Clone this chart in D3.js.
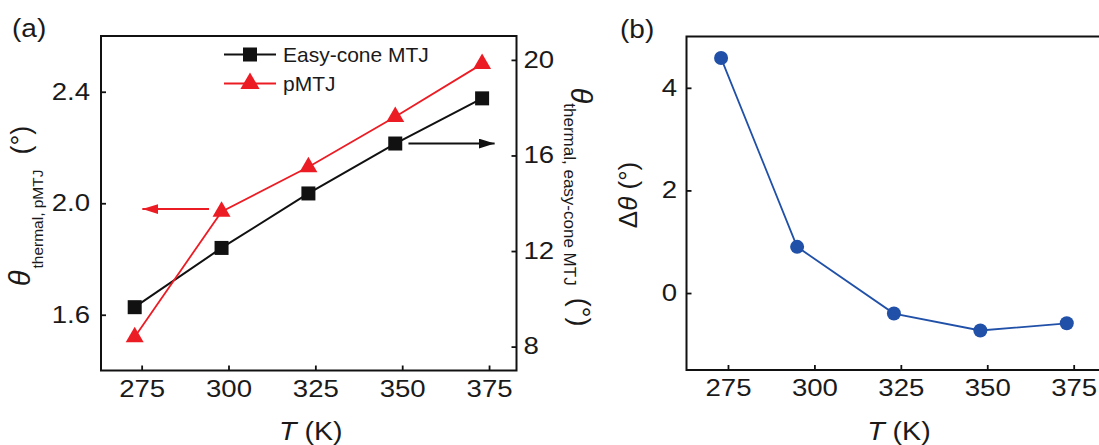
<!DOCTYPE html>
<html>
<head>
<meta charset="utf-8">
<script src="https://cdn.jsdelivr.net/npm/d3@7"></script>
<style>
  body { margin: 0; background: #fff; }
  svg { display: block; }
  text { font-family: "Liberation Sans", Arial, Helvetica, sans-serif; fill: #1a1a1a; }
</style>
</head>
<body>
<svg id="chart" width="1099" height="445"></svg>
<script>
// Temperatures (K) and thermal angles for panel (a)
const temperatures = [273, 298, 323, 348, 373];
const easyConeTheta = [9.65, 12.13, 14.41, 16.5, 18.39];   // right axis, degrees
const pmtjTheta = [1.52, 1.97, 2.13, 2.31, 2.50];          // left axis, degrees

// Panel (b): angle difference vs temperature
const deltaTemperatures = [273, 295, 323, 348, 373];
const deltaTheta = [4.58, 0.90, -0.40, -0.73, -0.59];

// Tick values
const tempTicks = [275, 300, 325, 350, 375];
const pmtjTicks = [1.6, 2.0, 2.4];
const easyConeTicks = [8, 12, 16, 20];
const deltaTicks = [0, 2, 4];

// Arrow annotations (data coordinates): which axis each curve belongs to
const pmtjArrow = { from: [294.4, 1.979], to: [275.2, 1.979] };
const easyConeArrow = { from: [351.8, 16.5], to: [376.6, 16.5] };

const RED = "#ec1c24";
const BLACK = "#111";
const BLUE = "#2150a8";

const TICK_FONT = 23;
const TICK_STRETCH = 1.2;   // tick numerals are set wide

const svg = d3.select("#chart");

const defs = svg.append("defs");
function arrowMarker(id, color) {
  defs.append("marker")
    .attr("id", id)
    .attr("viewBox", "0 0 16 10")
    .attr("refX", 16).attr("refY", 5)
    .attr("markerWidth", 16).attr("markerHeight", 10)
    .attr("markerUnits", "userSpaceOnUse")
    .attr("orient", "auto")
    .append("path")
    .attr("d", "M0,0 L16,5 L0,10 Z")
    .attr("fill", color);
}
arrowMarker("arrow-red", RED);
arrowMarker("arrow-black", BLACK);

// Remove the axis baseline (the frame draws it), thicken ticks, widen numerals
function styleAxis(g) {
  g.select(".domain").remove();
  g.selectAll(".tick line").attr("stroke", BLACK).attr("stroke-width", 1.8);
  g.selectAll(".tick text")
    .style("font-size", TICK_FONT + "px")
    .attr("fill", "#1a1a1a")
    .each(function () {
      const t = d3.select(this);
      const x = +t.attr("x") || 0;
      t.attr("x", x / TICK_STRETCH).attr("transform", `scale(${TICK_STRETCH},1)`);
    });
}

// Horizontal label with a slight horizontal stretch
function wideText(parent, x, y, size, stretch, anchor) {
  return parent.append("text")
    .attr("transform", `translate(${x},${y}) scale(${stretch},1)`)
    .attr("text-anchor", anchor || "start")
    .style("font-size", size + "px");
}

// ---------- Panel (a) ----------
const A = { left: 101, right: 516.5, top: 36, bottom: 370.5 };
const xA = d3.scaleLinear().domain([263.3, 382.9]).range([A.left, A.right]);
const yPmtj = d3.scaleLinear().domain([1.4, 2.6]).range([A.bottom, A.top]);
const yEasy = d3.scaleLinear().domain([7, 21]).range([A.bottom, A.top]);

const gA = svg.append("g");

gA.append("g")
  .attr("transform", `translate(0,${A.bottom})`)
  .call(d3.axisBottom(xA).tickValues(tempTicks).tickSize(-5).tickPadding(10).tickFormat(d3.format("d")))
  .call(styleAxis);

gA.append("g")
  .attr("transform", `translate(${A.left},0)`)
  .call(d3.axisLeft(yPmtj).tickValues(pmtjTicks).tickSize(-5).tickPadding(11).tickFormat(d3.format(".1f")))
  .call(styleAxis);

gA.append("g")
  .attr("transform", `translate(${A.right},0)`)
  .call(d3.axisRight(yEasy).tickValues(easyConeTicks).tickSize(-5).tickPadding(7).tickFormat(d3.format("d")))
  .call(styleAxis);

gA.append("rect")
  .attr("x", A.left).attr("y", A.top)
  .attr("width", A.right - A.left).attr("height", A.bottom - A.top)
  .attr("fill", "none").attr("stroke", BLACK).attr("stroke-width", 2);

// Easy-cone MTJ series (right axis)
const easyPts = temperatures.map((t, i) => [xA(t), yEasy(easyConeTheta[i])]);
gA.append("path")
  .attr("d", d3.line()(easyPts))
  .attr("fill", "none").attr("stroke", BLACK).attr("stroke-width", 2);

// pMTJ series (left axis)
const pmtjPts = temperatures.map((t, i) => [xA(t), yPmtj(pmtjTheta[i])]);
gA.append("path")
  .attr("d", d3.line()(pmtjPts))
  .attr("fill", "none").attr("stroke", RED).attr("stroke-width", 1.8);

const SQ = 14;
gA.selectAll("rect.sq").data(easyPts).join("rect")
  .attr("class", "sq")
  .attr("x", d => d[0] - SQ / 2).attr("y", d => d[1] - SQ / 2)
  .attr("width", SQ).attr("height", SQ)
  .attr("fill", BLACK);

const tri = d3.symbol().type(d3.symbolTriangle).size(140);
gA.selectAll("path.tri").data(pmtjPts).join("path")
  .attr("class", "tri")
  .attr("transform", d => `translate(${d[0]},${d[1]})`)
  .attr("d", tri)
  .attr("fill", RED);

// Arrows pointing to each curve's axis
gA.append("line")
  .attr("x1", xA(pmtjArrow.from[0])).attr("y1", yPmtj(pmtjArrow.from[1]))
  .attr("x2", xA(pmtjArrow.to[0])).attr("y2", yPmtj(pmtjArrow.to[1]))
  .attr("stroke", RED).attr("stroke-width", 2)
  .attr("marker-end", "url(#arrow-red)");
gA.append("line")
  .attr("x1", xA(easyConeArrow.from[0])).attr("y1", yEasy(easyConeArrow.from[1]))
  .attr("x2", xA(easyConeArrow.to[0])).attr("y2", yEasy(easyConeArrow.to[1]))
  .attr("stroke", BLACK).attr("stroke-width", 2)
  .attr("marker-end", "url(#arrow-black)");

// Legend
const legend = gA.append("g").attr("transform", "translate(224,0)");
const legendRows = [
  { label: "Easy-cone MTJ", color: BLACK, y: 54.5, shape: "square" },
  { label: "pMTJ", color: RED, y: 83.5, shape: "triangle" }
];
legendRows.forEach(r => {
  legend.append("line").attr("x1", 0).attr("x2", 52).attr("y1", r.y).attr("y2", r.y)
    .attr("stroke", r.color).attr("stroke-width", 2);
  if (r.shape === "square") {
    legend.append("rect").attr("x", 26 - 7).attr("y", r.y - 7).attr("width", 14).attr("height", 14).attr("fill", r.color);
  } else {
    legend.append("path").attr("transform", `translate(26,${r.y})`)
      .attr("d", d3.symbol().type(d3.symbolTriangle).size(160)).attr("fill", r.color);
  }
  legend.append("text").attr("x", 59).attr("y", r.y + 7.5)
    .style("font-size", "21px").text(r.label);
});

// Axis titles (a)
const yTitleLeft = gA.append("text")
  .attr("transform", "translate(30,206) rotate(-90)")
  .attr("text-anchor", "middle")
  .style("font-size", "27px");
yTitleLeft.append("tspan").style("font-style", "italic").style("font-size", "29px").text("θ");
yTitleLeft.append("tspan").attr("dy", 13).attr("dx", 2).style("font-size", "15.5px").text("thermal, pMTJ");
yTitleLeft.append("tspan").attr("dy", -13).attr("dx", 15).text("(°)");

const yTitleRight = gA.append("text")
  .attr("transform", "translate(571,207) rotate(90)")
  .attr("text-anchor", "middle")
  .style("font-size", "27px");
yTitleRight.append("tspan").style("font-style", "italic").style("font-size", "29px").text("θ");
yTitleRight.append("tspan").attr("dy", 7).style("font-size", "17px").text("thermal, easy-cone MTJ");
yTitleRight.append("tspan").attr("dy", -7).attr("dx", 12).text("(°)");

const xTitleA = wideText(gA, (A.left + A.right) / 2 + 2, 440, 26, 1.1, "middle");
xTitleA.append("tspan").style("font-style", "italic").text("T");
xTitleA.append("tspan").text(" (K)");

wideText(gA, 12, 37, 25, 1.12).text("(a)");

// ---------- Panel (b) ----------
const B = { left: 686.5, top: 36.5, bottom: 370 };
const xB = d3.scaleLinear().domain([263, 383]).range([B.left, B.left + 120 * 3.457]);
const yB = d3.scaleLinear().domain([-1.5, 5]).range([B.bottom, B.top]);
B.right = xB.range()[1];

const gB = svg.append("g");

gB.append("g")
  .attr("transform", `translate(0,${B.bottom})`)
  .call(d3.axisBottom(xB).tickValues(tempTicks).tickSize(-5).tickPadding(10).tickFormat(d3.format("d")))
  .call(styleAxis);

gB.append("g")
  .attr("transform", `translate(${B.left},0)`)
  .call(d3.axisLeft(yB).tickValues(deltaTicks).tickSize(-5).tickPadding(9.5).tickFormat(d3.format("d")))
  .call(styleAxis);

gB.append("rect")
  .attr("x", B.left).attr("y", B.top)
  .attr("width", B.right - B.left).attr("height", B.bottom - B.top)
  .attr("fill", "none").attr("stroke", BLACK).attr("stroke-width", 2);

const deltaPts = deltaTemperatures.map((t, i) => [xB(t), yB(deltaTheta[i])]);
gB.append("path")
  .attr("d", d3.line()(deltaPts))
  .attr("fill", "none").attr("stroke", BLUE).attr("stroke-width", 1.8);
gB.selectAll("circle").data(deltaPts).join("circle")
  .attr("cx", d => d[0]).attr("cy", d => d[1]).attr("r", 7)
  .attr("fill", BLUE);

const yTitleB = gB.append("text")
  .attr("transform", "translate(637,195) rotate(-90)")
  .attr("text-anchor", "middle").style("font-size", "26px");
yTitleB.append("tspan").text("Δ");
yTitleB.append("tspan").style("font-style", "italic").text("θ");
yTitleB.append("tspan").text(" (°)");

const xTitleB = wideText(gB, (B.left + B.right) / 2 + 5, 440, 26, 1.1, "middle");
xTitleB.append("tspan").style("font-style", "italic").text("T");
xTitleB.append("tspan").text(" (K)");

wideText(gB, 620, 38, 25, 1.12).text("(b)");
</script>
</body>
</html>
